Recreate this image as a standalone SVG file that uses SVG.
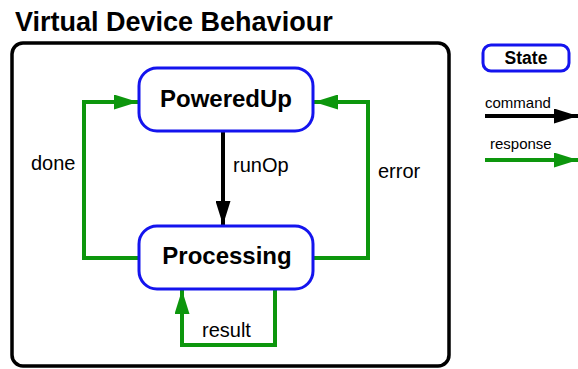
<svg xmlns="http://www.w3.org/2000/svg" width="578" height="369" viewBox="0 0 578 369">
  <defs>
    <style>
      text { font-family: "Liberation Sans", Arial, sans-serif; fill: #000; }
      .title { font-size: 27px; font-weight: bold; }
      .state { fill: #fff; stroke: #1414ee; stroke-width: 3; }
      .state-label { font-size: 24px; font-weight: bold; text-anchor: middle; }
      .edge-label { font-size: 20px; }
      .legend-label { font-size: 15px; }
      .cmd { fill: none; stroke: #000; stroke-width: 4; }
      .resp { fill: none; stroke: #0d960d; stroke-width: 4; }
    </style>
    <marker id="head-black" markerUnits="userSpaceOnUse" viewBox="0 0 24 15" refX="24" refY="7.5" markerWidth="24" markerHeight="15" orient="auto">
      <path d="M0,0 L24,7.5 L0,15 Z" fill="#000"/>
    </marker>
    <marker id="head-green" markerUnits="userSpaceOnUse" viewBox="0 0 24 15" refX="24" refY="7.5" markerWidth="24" markerHeight="15" orient="auto">
      <path d="M0,0 L24,7.5 L0,15 Z" fill="#0d960d"/>
    </marker>
  </defs>

  <rect width="578" height="369" fill="#fff"/>

  <!-- heading and enclosing frame -->
  <text class="title" x="15" y="31">Virtual Device Behaviour</text>
  <rect x="12" y="43" width="437" height="323" rx="11" fill="none" stroke="#000" stroke-width="3.5"/>

  <!-- transitions -->
  <g id="connectors">
    <path id="runOp" class="cmd" d="M223,131 L223,225" marker-end="url(#head-black)"/>
    <path id="done" class="resp" d="M139,258 L84,258 L84,102 L138,102" marker-end="url(#head-green)"/>
    <path id="error" class="resp" d="M313,258 L368,258 L368,102 L314,102" marker-end="url(#head-green)"/>
    <path id="result" class="resp" d="M275,289 L275,345 L182,345 L182,290" marker-end="url(#head-green)"/>
    <text class="edge-label" x="31" y="170">done</text>
    <text class="edge-label" x="233" y="172">runOp</text>
    <text class="edge-label" x="378" y="178">error</text>
    <text class="edge-label" x="202" y="337">result</text>
  </g>

  <!-- states -->
  <g id="PoweredUp">
    <rect class="state" x="139" y="68" width="174" height="63" rx="18"/>
    <text class="state-label" x="226" y="107">PoweredUp</text>
  </g>
  <g id="Processing">
    <rect class="state" x="139" y="226" width="174" height="63" rx="18"/>
    <text class="state-label" x="227" y="264">Processing</text>
  </g>

  <!-- legend -->
  <g id="legend">
    <g id="legend-state">
      <rect class="state" x="483" y="45" width="86" height="26" rx="8"/>
      <text x="526" y="64" font-size="17.5" font-weight="bold" text-anchor="middle">State</text>
    </g>
    <g id="legend-command">
      <text class="legend-label" x="485" y="108">command</text>
      <path class="cmd" d="M485,116 L578,116" marker-end="url(#head-black)"/>
    </g>
    <g id="legend-response">
      <text class="legend-label" x="490" y="149">response</text>
      <path class="resp" d="M485,160 L578,160" marker-end="url(#head-green)"/>
    </g>
  </g>
</svg>
